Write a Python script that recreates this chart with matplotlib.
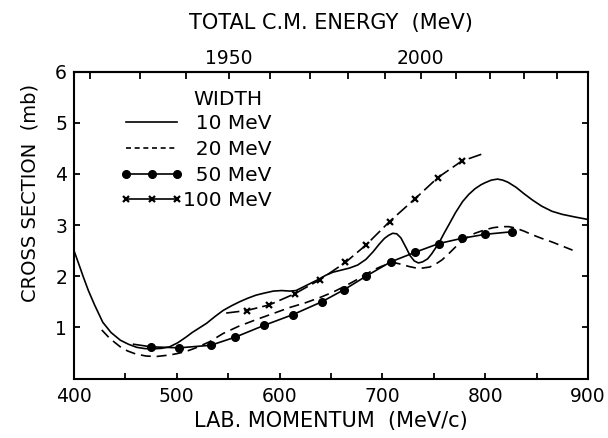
import numpy as np
import matplotlib
matplotlib.use("Agg")
import matplotlib.pyplot as plt
from matplotlib.lines import Line2D
from matplotlib.legend_handler import HandlerLine2D

plt.rcParams["font.family"] = ["DejaVu Sans"]

M_P = 938.27  # proton mass (MeV), top axis is pp total c.m. energy

# ---- width 10 MeV (solid) ----
p10 = [400, 405, 409, 414, 420, 428, 436, 445, 453, 461, 469, 477, 485, 493,
       501, 509, 515, 522, 529, 537, 545, 553, 561, 569, 577, 585, 594, 602,
       610, 616, 622, 630, 638, 645, 652, 660, 668, 676, 684, 691, 697, 702,
       706, 710, 714, 718, 723, 727, 731, 735, 739, 744, 748, 755, 760, 765,
       771, 778, 784, 790, 796, 800, 806, 812, 817, 822, 830, 838, 846, 855,
       865, 875, 887, 900]
s10 = [2.50, 2.22, 1.99, 1.72, 1.44, 1.10, 0.90, 0.75, 0.67, 0.61, 0.585, 0.58,
       0.59, 0.62, 0.70, 0.81, 0.90, 0.99, 1.08, 1.21, 1.33, 1.42, 1.50, 1.57,
       1.63, 1.67, 1.71, 1.72, 1.71, 1.72, 1.78, 1.86, 1.94, 2.02, 2.08, 2.12,
       2.16, 2.22, 2.33, 2.48, 2.63, 2.74, 2.80, 2.84, 2.83, 2.75, 2.56, 2.40,
       2.30, 2.26, 2.28, 2.34, 2.44, 2.65, 2.84, 3.02, 3.24, 3.46, 3.60, 3.71,
       3.79, 3.83, 3.88, 3.90, 3.88, 3.84, 3.74, 3.61, 3.49, 3.37, 3.27, 3.21,
       3.16, 3.11]

# ---- width 20 MeV (dashed) ----
p20 = [427, 435, 445, 452, 460, 470, 480, 493, 501, 509, 516, 522, 532, 545,
       560, 577, 595, 610, 625, 640, 652, 663, 674, 684, 693, 700, 707, 713,
       719, 726, 733, 739, 746, 752, 758, 765, 772, 781, 790, 800, 808, 816,
       823, 830, 838, 846, 855, 865, 875, 885]
s20 = [0.95, 0.78, 0.62, 0.54, 0.48, 0.44, 0.43, 0.46, 0.49, 0.53, 0.58, 0.63,
       0.72, 0.88, 1.02, 1.15, 1.28, 1.39, 1.48, 1.59, 1.69, 1.80, 1.92, 2.04,
       2.14, 2.20, 2.25, 2.26, 2.23, 2.19, 2.16, 2.16, 2.18, 2.24, 2.32, 2.45,
       2.59, 2.74, 2.84, 2.91, 2.95, 2.97, 2.97, 2.94, 2.88, 2.81, 2.74, 2.67,
       2.59, 2.51]

# ---- width 50 MeV (dots; first point is line start only) ----
p50 = [458, 475, 502, 533, 557, 585, 613, 641, 663, 684, 708, 732, 755, 777, 800, 826]
s50 = [0.67, 0.62, 0.60, 0.65, 0.81, 1.04, 1.25, 1.50, 1.74, 2.00, 2.28, 2.47,
       2.64, 2.74, 2.82, 2.87]

# ---- width 100 MeV (crosses; first/last points are line ends only) ----
p100 = [548, 568, 590, 615, 639, 664, 684, 707, 732, 754, 777, 797]
s100 = [1.28, 1.33, 1.44, 1.66, 1.93, 2.27, 2.61, 3.07, 3.52, 3.93, 4.25, 4.39]

labels = ["  10 MeV", "  20 MeV", "  50 MeV", "100 MeV"]


def lab_to_cm(p):
    p = np.asarray(p, dtype=float)
    e = np.sqrt(p ** 2 + M_P ** 2)
    return np.sqrt(2 * M_P ** 2 + 2 * M_P * e)


def cm_to_lab(w):
    w = np.asarray(w, dtype=float)
    e = (w ** 2 - 2 * M_P ** 2) / (2 * M_P)
    return np.sqrt(np.clip(e ** 2 - M_P ** 2, 0, None))


fig = plt.figure(figsize=(6.08, 4.38), dpi=100)
ax = fig.add_axes([0.1217, 0.1358, 0.8454, 0.7005])

lw = 1.2
ax.plot(p10, s10, color="black", lw=lw)
ax.plot(p20, s20, color="black", lw=lw, ls=(0, (6, 3.5)))
ax.plot(p50, s50, color="black", lw=lw, marker="o", ms=5.5,
        markevery=list(range(1, len(p50))))
ax.plot(p100, s100, color="black", lw=lw, ls=(0, (8, 3)), marker="x", ms=5,
        mew=1.6, markevery=list(range(1, len(p100) - 1)))

ax.set_xlim(400, 900)
ax.set_ylim(0, 6)
ax.set_xticks(range(400, 901, 100))
ax.set_xticks(range(450, 900, 100), minor=True)
ax.set_yticks(range(1, 7))
ax.tick_params(which="both", direction="in", length=4.5, width=1.3,
               labelsize=13.5, top=False, right=True, pad=6)
ax.tick_params(axis="y", pad=5)
for sp in ax.spines.values():
    sp.set_linewidth(1.5)

ax.set_xlabel("LAB. MOMENTUM  (MeV/c)", fontsize=15, labelpad=4)
ax.set_ylabel("CROSS SECTION  (mb)", fontsize=14)
ax.yaxis.set_label_coords(-0.067, 0.605)

sec = ax.secondary_xaxis("top", functions=(lab_to_cm, cm_to_lab))
sec.set_xticks([1950, 2000])
sec.set_xticks(range(1920, 2050, 10), minor=True)
sec.tick_params(which="both", direction="in", length=5, width=1.3,
                labelsize=13.5, pad=3)
sec.spines["top"].set_linewidth(1.5)
sec.set_xlabel("TOTAL C.M. ENERGY  (MeV)", fontsize=15, labelpad=14)

handles = [
    Line2D([], [], color="black", lw=lw),
    Line2D([], [], color="black", lw=lw, ls=(0, (3, 2.2))),
    Line2D([], [], color="black", lw=lw, marker="o", ms=5.5),
    Line2D([], [], color="black", lw=lw, marker="x", ms=5, mew=1.6),
]
ax.legend(handles, labels, loc="center left", bbox_to_anchor=(0.101, 0.705),
          frameon=False, fontsize=14.5, numpoints=3, handlelength=2.55,
          handletextpad=0.3, labelspacing=0.34, borderpad=0, borderaxespad=0,
          handler_map={Line2D: HandlerLine2D(marker_pad=0)})
ax.text(0.232, 0.911, "WIDTH", transform=ax.transAxes, fontsize=14.5,
        ha="left", va="center")

fig.savefig("out.png", dpi=100)
